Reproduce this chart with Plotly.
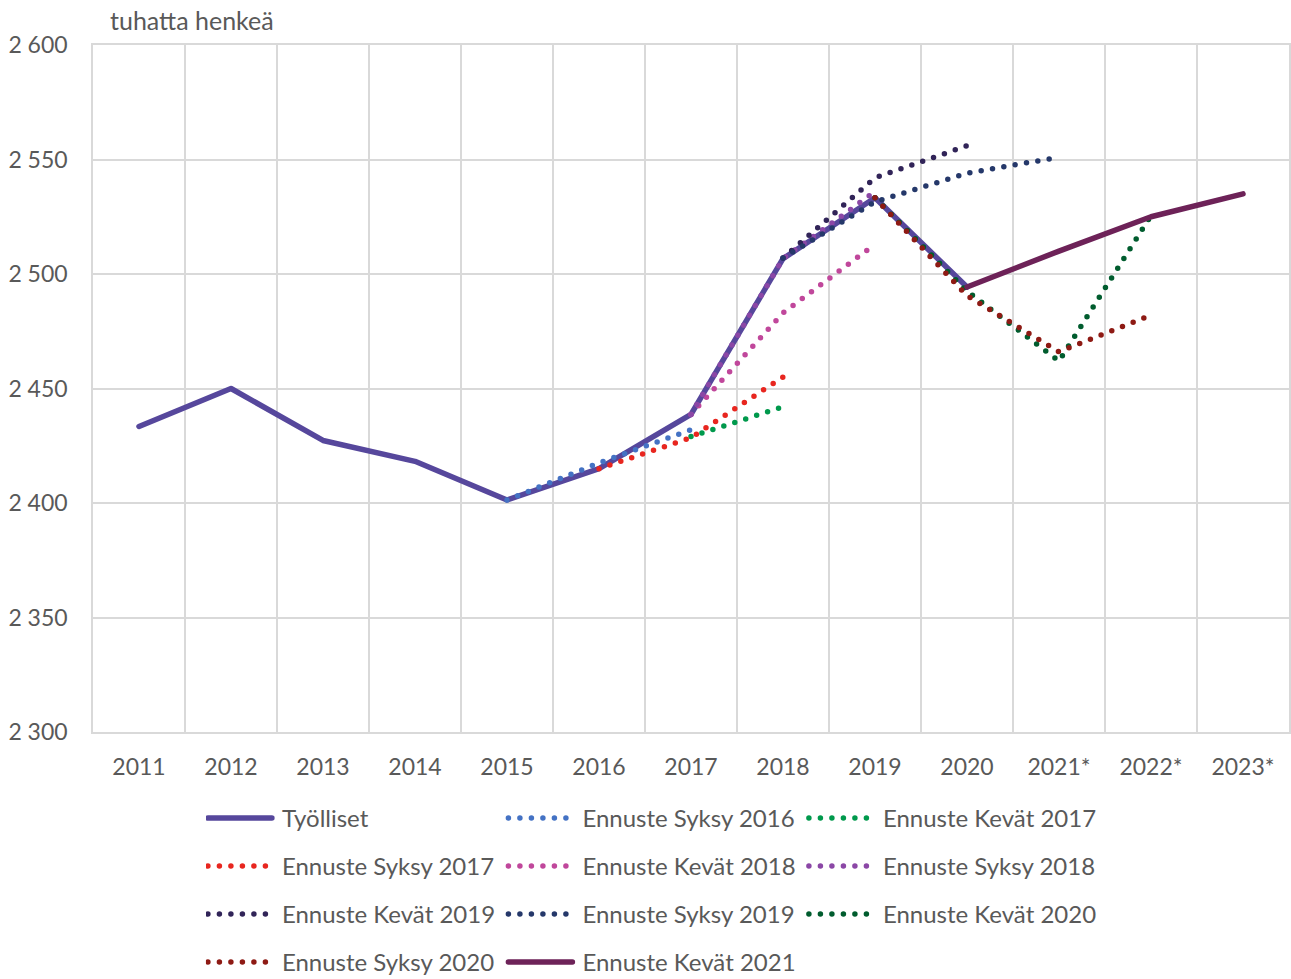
import plotly.graph_objects as go

years = ["2011", "2012", "2013", "2014", "2015", "2016", "2017",
         "2018", "2019", "2020", "2021*", "2022*", "2023*"]

# tuhatta henkeä, luettu kuvasta
tyolliset = [2433.4, 2450.0, 2427.3, 2418.2, 2401.3, 2415.0, 2438.7,
             2506.7, 2533.3, 2494.3, None, None, None]
syksy_2016 = [None, None, None, None, 2401.3, 2417.5, 2432.0,
              None, None, None, None, None, None]
kevat_2017 = [None, None, None, None, None, None, 2429.0,
              2442.0, None, None, None, None, None]
syksy_2017 = [None, None, None, None, None, 2415.0, 2428.5,
              2455.0, None, None, None, None, None]
kevat_2018 = [None, None, None, None, None, None, 2438.7,
              2483.0, 2513.0, None, None, None, None]
syksy_2018 = [None, None, None, None, None, None, 2438.7,
              2506.7, 2536.0, None, None, None, None]
kevat_2019 = [None, None, None, None, None, None, None,
              2507.0, 2542.0, 2556.0, None, None, None]
syksy_2019 = [None, None, None, None, None, None, None,
              2507.0, 2531.5, 2544.0, 2551.0, None, None]
kevat_2020 = [None, None, None, None, None, None, None,
              None, 2533.3, 2492.5, 2462.0, 2525.5, None]
syksy_2020 = [None, None, None, None, None, None, None,
              None, 2533.3, 2490.5, 2466.0, 2482.0, None]
kevat_2021 = [None, None, None, None, None, None, None,
              None, None, 2494.3, 2510.0, 2525.0, 2535.0]

series = [
    ("Työlliset", tyolliset, "#56479C", "solid", "legend"),
    ("Ennuste Syksy 2016", syksy_2016, "#4472C4", "dot", "legend"),
    ("Ennuste Kevät 2017", kevat_2017, "#00994C", "dot", "legend"),
    ("Ennuste Syksy 2017", syksy_2017, "#E8261F", "dot", "legend2"),
    ("Ennuste Kevät 2018", kevat_2018, "#C0479B", "dot", "legend2"),
    ("Ennuste Syksy 2018", syksy_2018, "#8B47A6", "dot", "legend2"),
    ("Ennuste Kevät 2019", kevat_2019, "#312458", "dot", "legend3"),
    ("Ennuste Syksy 2019", syksy_2019, "#25386A", "dot", "legend3"),
    ("Ennuste Kevät 2020", kevat_2020, "#005C2E", "dot", "legend3"),
    ("Ennuste Syksy 2020", syksy_2020, "#8E1A14", "dot", "legend4"),
    ("Ennuste Kevät 2021", kevat_2021, "#6D2258", "solid", "legend4"),
]

FONT = "Lato"
GREY = "#595959"
GRID = "#D9D9D9"

fig = go.Figure()
for name, vals, color, style, leg in series:
    dash = "solid" if style == "solid" else "0px,11.5px"
    fig.add_trace(go.Scatter(x=years, y=vals, name=name, mode="lines",
                             line=dict(color=color, width=5.5, dash=dash),
                             connectgaps=False, legend=leg))

legend_common = dict(orientation="h", xanchor="left", yanchor="middle",
                     x=0.0944, itemwidth=66, entrywidth=219.5,
                     font=dict(family=FONT, size=24, color=GREY),
                     bgcolor="rgba(0,0,0,0)", traceorder="normal")

fig.update_layout(
    width=1291, height=979,
    margin=dict(l=93, r=2, t=45, b=246.5, autoexpand=False),
    plot_bgcolor="white", paper_bgcolor="white",
    separators=", ",
    font=dict(family=FONT, size=23, color=GREY),
    legend=dict(y=-0.1258, **legend_common),
    legend2=dict(y=-0.1956, **legend_common),
    legend3=dict(y=-0.2655, **legend_common),
    legend4=dict(y=-0.3353, **legend_common),
    xaxis=dict(type="category", range=[-0.5, 12.5], tickson="boundaries",
               showgrid=True, gridcolor=GRID, gridwidth=1.5,
               ticks="", showline=True, mirror=True, linecolor=GRID,
               linewidth=1.5, zeroline=False, automargin=False,
               ticklabelstandoff=14,
               tickfont=dict(family=FONT, size=23, color=GREY)),
    yaxis=dict(range=[2300, 2600], dtick=50, tickformat=",d",
               showgrid=True, gridcolor=GRID, gridwidth=1.5,
               ticks="", showline=True, mirror=True, linecolor=GRID,
               linewidth=1.5, zeroline=False, automargin=False,
               ticklabelstandoff=19,
               tickfont=dict(family=FONT, size=23, color=GREY)),
    annotations=[dict(text="tuhatta henkeä", xref="paper", yref="paper",
                      x=0.0125, y=1.0364, xanchor="left", yanchor="middle",
                      showarrow=False,
                      font=dict(family=FONT, size=25, color=GREY))],
)

# sivun reunus pois, pyöreät pisteet katkoviivoihin ja pidemmät selitteen viivat
post = """
document.body.style.margin = '0';
var s = document.createElement('style');
s.textContent = 'body{margin:0;overflow:hidden;} .js-line, .legendlines path {stroke-linecap: round; stroke-linejoin: round;}';
document.head.appendChild(s);
document.querySelectorAll('.legendlines path').forEach(function(p) {
    p.setAttribute('d', 'M2,0h64');
});
"""

fig.write_html("out.html", post_script=post,
               config={"displayModeBar": False})
